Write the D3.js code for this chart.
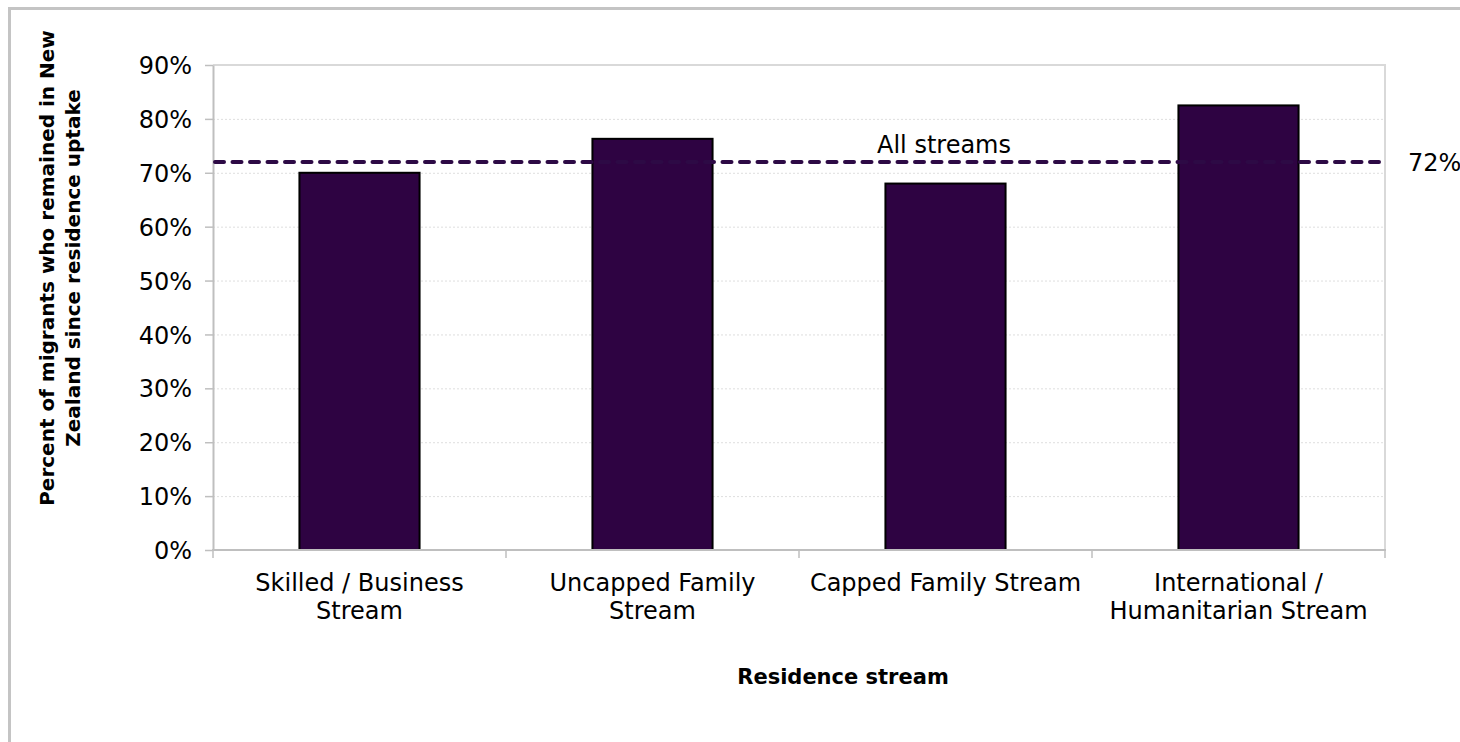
<!DOCTYPE html>
<html>
<head>
<meta charset="utf-8">
<script src="https://cdn.jsdelivr.net/npm/d3@7"></script>
<style>
  html, body { margin: 0; padding: 0; background: #fff; }
  svg { display: block; }
  text { font-family: "DejaVu Sans", Verdana, sans-serif; fill: #000; }
</style>
</head>
<body>
<svg id="chart" width="1460" height="742"></svg>
<script>
const categories = [
  ["Skilled / Business", "Stream"],
  ["Uncapped Family", "Stream"],
  ["Capped Family Stream"],
  ["International /", "Humanitarian Stream"]
];
const values = [0.70, 0.763, 0.68, 0.825];
const allStreams = 0.72;
const allStreamsLabel = "All streams";
const yTicks = [0, 0.1, 0.2, 0.3, 0.4, 0.5, 0.6, 0.7, 0.8, 0.9];
const yTitle = ["Percent of migrants who remained in New", "Zealand since residence uptake"];
const xTitle = "Residence stream";

const svg = d3.select("#chart");
const W = 1460, H = 742;
const plot = { left: 213, right: 1385, top: 65, bottom: 550 };

svg.append("rect").attr("width", W).attr("height", H).attr("fill", "#fff");
// outer frame (top and left visible)
svg.append("path")
  .attr("d", `M9.5,${H} V8.5 H${W + 5}`)
  .attr("fill", "none").attr("stroke", "#c4c4c4").attr("stroke-width", 3);

const x = d3.scaleBand().domain(d3.range(categories.length))
  .range([plot.left, plot.right]).paddingInner(0).paddingOuter(0);
const y = d3.scaleLinear().domain([0, 0.9]).range([plot.bottom, plot.top]);

// gridlines
svg.append("g").selectAll("line").data(yTicks.filter(d => d > 0)).join("line")
  .attr("x1", plot.left).attr("x2", plot.right)
  .attr("y1", d => y(d) + 0.5).attr("y2", d => y(d) + 0.5)
  .attr("stroke", "#dedede").attr("stroke-width", 1).attr("stroke-dasharray", "2,2");

// plot border top/right
svg.append("path")
  .attr("d", `M${plot.left},${plot.top} H${plot.right} V${plot.bottom}`)
  .attr("fill", "none").attr("stroke", "#d9d9d9").attr("stroke-width", 2);

// y axis
const yAxis = d3.axisLeft(y).tickValues(yTicks).tickFormat(d3.format(".0%"))
  .tickSizeInner(8).tickSizeOuter(0).tickPadding(13);
const gy = svg.append("g").attr("transform", `translate(${plot.left},0)`).call(yAxis);
gy.select(".domain").attr("stroke", "#bfbfbf").attr("stroke-width", 2);
gy.selectAll(".tick line").attr("stroke", "#bfbfbf").attr("stroke-width", 1.5);
gy.selectAll(".tick text").attr("font-size", 24).attr("font-family", "DejaVu Sans").attr("fill", "#000").attr("dy", "0.36em");

// bars
const bw = x.bandwidth() * 0.41;
svg.append("g").selectAll("rect").data(values).join("rect")
  .attr("x", (d, i) => x(i) + (x.bandwidth() - bw) / 2)
  .attr("width", bw)
  .attr("y", d => y(d))
  .attr("height", d => y(0) - y(d))
  .attr("fill", "#2e0342")
  .attr("stroke", "#000").attr("stroke-width", 2);

// x axis
const gx = svg.append("g").attr("transform", `translate(0,${plot.bottom})`);
gx.append("line").attr("x1", plot.left - 1).attr("x2", plot.right + 1)
  .attr("y1", 0).attr("y2", 0).attr("stroke", "#bfbfbf").attr("stroke-width", 2);
const boundaries = d3.range(categories.length + 1).map(i => i < categories.length ? x(i) : x(i - 1) + x.bandwidth());
gx.selectAll("line.tk").data(boundaries).join("line").attr("class", "tk")
  .attr("x1", d => d).attr("x2", d => d).attr("y1", 0).attr("y2", 8)
  .attr("stroke", "#bfbfbf").attr("stroke-width", 1.5);
const lbl = gx.selectAll("text.cat").data(categories).join("text").attr("class", "cat")
  .attr("text-anchor", "middle").attr("font-size", 24)
  .attr("transform", (d, i) => `translate(${x(i) + x.bandwidth() / 2},0)`);
lbl.selectAll("tspan").data(d => d).join("tspan")
  .attr("x", 0).attr("y", (d, j) => 41 + j * 28).text(d => d);

// average dashed line
svg.append("line")
  .attr("x1", plot.left + 2).attr("x2", plot.right + 2)
  .attr("y1", y(allStreams)).attr("y2", y(allStreams))
  .attr("stroke", "#2d0a45").attr("stroke-width", 4)
  .attr("stroke-dasharray", "9,8.5").attr("stroke-linecap", "round");
svg.append("text").attr("x", plot.right + 23).attr("y", y(allStreams) + 9)
  .attr("font-size", 24).text(d3.format(".0%")(allStreams));
svg.append("text").attr("x", 944).attr("y", 153).attr("text-anchor", "middle")
  .attr("font-size", 24).text(allStreamsLabel);

// axis titles
svg.append("text").attr("x", 843).attr("y", 684).attr("text-anchor", "middle")
  .attr("font-size", 21).attr("font-weight", "bold").text(xTitle);
const yt = svg.append("text").attr("text-anchor", "middle")
  .attr("font-size", 20).attr("font-weight", "bold")
  .attr("transform", "translate(0,268) rotate(-90)");
yt.selectAll("tspan").data(yTitle).join("tspan")
  .attr("x", 0).attr("y", (d, i) => 54 + i * 26).text(d => d);
</script>
</body>
</html>
